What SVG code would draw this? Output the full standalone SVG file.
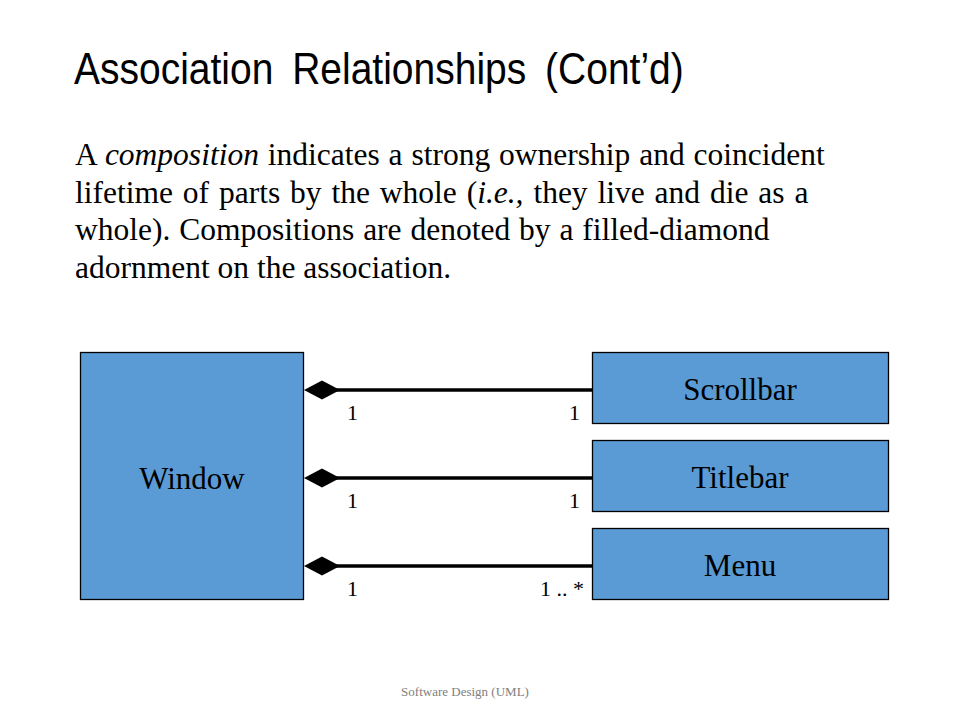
<svg xmlns="http://www.w3.org/2000/svg" width="960" height="720" viewBox="0 0 960 720">
<style>
.box{fill:#5b9bd5;stroke:#000;stroke-width:1.3}
.lbl{font-family:"Liberation Serif",serif;font-size:31px;fill:#000;text-anchor:middle}
.mult{font-family:"Liberation Serif",serif;font-size:22px;fill:#000}
.body{font-family:"Liberation Serif",serif;font-size:31.5px;fill:#000}
.conn{stroke:#000;stroke-width:3.5;fill:none}
</style>
<defs>
<path id="dia" d="M0,0 L18,-9.5 L36,0 L18,9.5 Z" fill="#000"/>
</defs>
<rect width="960" height="720" fill="#fff"/>
<text transform="translate(74,84) scale(1,1.12)" font-family="'Liberation Sans',sans-serif" font-size="39" word-spacing="8" fill="#000">Association Relationships (Cont’d)</text>
<text class="body" x="75" y="165" word-spacing="1">A <tspan font-style="italic">composition</tspan> indicates a strong ownership and coincident</text>
<text class="body" x="75" y="202.5" word-spacing="2">lifetime of parts by the whole (<tspan font-style="italic">i.e.,</tspan> they live and die as a</text>
<text class="body" x="75" y="240" word-spacing="1">whole). Compositions are denoted by a filled-diamond</text>
<text class="body" x="75" y="277.5">adornment on the association.</text>
<g id="connectors">
<line class="conn" x1="336" y1="390" x2="593" y2="390"/>
<use href="#dia" x="304" y="390"/>
<line class="conn" x1="336" y1="478" x2="593" y2="478"/>
<use href="#dia" x="304" y="478"/>
<line class="conn" x1="336" y1="566" x2="593" y2="566"/>
<use href="#dia" x="304" y="566"/>
<text class="mult" x="347" y="420">1</text>
<text class="mult" x="569" y="420">1</text>
<text class="mult" x="347" y="508">1</text>
<text class="mult" x="569" y="508">1</text>
<text class="mult" x="347" y="596">1</text>
<text class="mult" x="540" y="596">1 .. *</text>
</g>
<g id="window"><rect class="box" x="80.5" y="352.5" width="223" height="247"/><text class="lbl" x="192" y="489">Window</text></g>
<g id="scrollbar"><rect class="box" x="592.5" y="352.5" width="296" height="71"/><text class="lbl" x="740" y="400">Scrollbar</text></g>
<g id="titlebar"><rect class="box" x="592.5" y="440.5" width="296" height="71"/><text class="lbl" x="740" y="488">Titlebar</text></g>
<g id="menu"><rect class="box" x="592.5" y="528.5" width="296" height="71"/><text class="lbl" x="740" y="576">Menu</text></g>
<text x="465" y="696" font-family="'Liberation Serif',serif" font-size="13" fill="#808080" text-anchor="middle">Software Design (UML)</text>
</svg>
